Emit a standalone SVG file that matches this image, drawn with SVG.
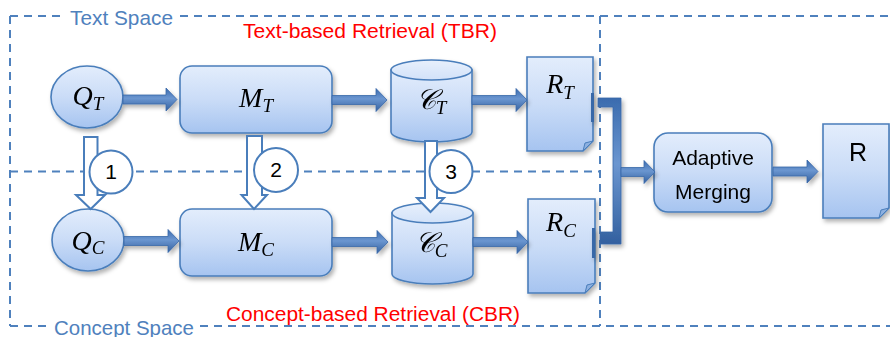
<svg xmlns="http://www.w3.org/2000/svg" width="890" height="337" viewBox="0 0 890 337">
  <style>
    .frame { fill: none; stroke: #4F81BD; stroke-width: 2; stroke-dasharray: 8 6; }
    .node { fill: url(#nodeFill); stroke: #4A7EBB; stroke-width: 1.6; }
    .cap { fill: url(#capFill); stroke: #4A7EBB; stroke-width: 1.6; }
    .fold { fill: #8DB0E0; stroke: #4A7EBB; stroke-width: 1; }
    .flow { fill: url(#flowFill); stroke: #3867A8; stroke-width: 0.8; }
    .hollow { fill: #FFFFFF; stroke: #4A7EBB; stroke-width: 2; }
    .badge { fill: #FFFFFF; stroke: #4A7EBB; stroke-width: 2; }
    .num { font-family: "Liberation Sans", Arial, sans-serif; font-size: 21px; fill: #000; text-anchor: middle; }
    .math { font-family: "Liberation Serif", "DejaVu Serif", serif; font-style: italic; font-size: 28px; fill: #000; text-anchor: middle; }
    .sub { font-size: 19px; }
    .space { font-family: "Liberation Sans", Arial, sans-serif; font-size: 21px; fill: #4F81BD; }
    .title { font-family: "Liberation Sans", Arial, sans-serif; font-size: 20px; fill: #FF0000; }
    .label { font-family: "Liberation Sans", Arial, sans-serif; font-size: 21px; fill: #000; text-anchor: middle; }
  </style>
  <defs>
    <linearGradient id="nodeFill" x1="0" y1="0" x2="0" y2="1">
      <stop offset="0" stop-color="#E3EDFC"/>
      <stop offset="0.5" stop-color="#CADCF7"/>
      <stop offset="1" stop-color="#A6C4F0"/>
    </linearGradient>
    <linearGradient id="capFill" x1="0" y1="0" x2="0" y2="1">
      <stop offset="0" stop-color="#E8F0FC"/>
      <stop offset="1" stop-color="#D2E2F9"/>
    </linearGradient>
    <linearGradient id="flowFill" x1="0" y1="0" x2="0" y2="1">
      <stop offset="0" stop-color="#3A6BAE"/>
      <stop offset="0.45" stop-color="#6B96D0"/>
      <stop offset="1" stop-color="#33609F"/>
    </linearGradient>
    <filter id="shadow" x="-20%" y="-20%" width="150%" height="150%">
      <feDropShadow dx="2" dy="3" stdDeviation="2" flood-color="#000" flood-opacity="0.3"/>
    </filter>
  </defs>

  <!-- dashed space frames -->
  <g id="frames">
    <path class="frame" d="M10,16 H66 M180,16 H890 M10,16 V326 M10,326 H48 M200,326 H890 M600,16 V326 M10,171.5 H600"/>
    <text class="space" x="70" y="25" textLength="103" lengthAdjust="spacingAndGlyphs">Text Space</text>
    <text class="space" x="54" y="335" textLength="140" lengthAdjust="spacingAndGlyphs">Concept Space</text>
    <text class="title" x="243" y="38" textLength="254" lengthAdjust="spacingAndGlyphs">Text-based Retrieval (TBR)</text>
    <text class="title" x="226" y="321" textLength="294" lengthAdjust="spacingAndGlyphs">Concept-based Retrieval (CBR)</text>
  </g>

  <!-- text-based row -->
  <g id="QT" filter="url(#shadow)">
    <ellipse class="node" cx="87" cy="97" rx="36" ry="31"/>
    <text class="math" x="88" y="105">Q<tspan class="sub" dy="5">T</tspan></text>
  </g>
  <g id="MT" filter="url(#shadow)">
    <rect class="node" x="180" y="66" width="152" height="67" rx="12"/>
    <text class="math" x="256" y="107">M<tspan class="sub" dy="5">T</tspan></text>
  </g>
  <g id="CT" filter="url(#shadow)">
    <path class="node" d="M391,70 V132 A40.5,10 0 0 0 472,132 V70 Z"/>
    <ellipse class="cap" cx="431.5" cy="70" rx="40.5" ry="10"/>
    <text class="math" x="431" y="109">𝒞<tspan class="sub" dy="5">T</tspan></text>
  </g>
  <g id="RT" filter="url(#shadow)">
    <path class="node" d="M527,57 H593 V141 L583,151 H527 Z"/>
    <path class="fold" d="M583,151 L585,143 L593,141 Z"/>
    <text class="math" x="560" y="93">R<tspan class="sub" dy="6">T</tspan></text>
  </g>

  <!-- concept-based row -->
  <g id="QC" filter="url(#shadow)">
    <ellipse class="node" cx="88" cy="240" rx="36" ry="31"/>
    <text class="math" x="88" y="250">Q<tspan class="sub" dy="4">C</tspan></text>
  </g>
  <g id="MC" filter="url(#shadow)">
    <rect class="node" x="180" y="209" width="152" height="67" rx="12"/>
    <text class="math" x="256" y="251">M<tspan class="sub" dy="5">C</tspan></text>
  </g>
  <g id="CC" filter="url(#shadow)">
    <path class="node" d="M392,213 V274 A40.5,10 0 0 0 473,274 V213 Z"/>
    <ellipse class="cap" cx="432.5" cy="213" rx="40.5" ry="10"/>
    <text class="math" x="431" y="252">𝒞<tspan class="sub" dy="5">C</tspan></text>
  </g>
  <g id="RC" filter="url(#shadow)">
    <path class="node" d="M528,199 H595 V283 L585,293 H528 Z"/>
    <path class="fold" d="M585,293 L587,285 L595,283 Z"/>
    <text class="math" x="561" y="231">R<tspan class="sub" dy="6">C</tspan></text>
  </g>

  <!-- merging and final result -->
  <g id="merge" filter="url(#shadow)">
    <rect class="node" x="654" y="133" width="118" height="79" rx="14"/>
    <text class="label" x="713" y="165">Adaptive</text>
    <text class="label" x="713" y="199">Merging</text>
  </g>
  <g id="R" filter="url(#shadow)">
    <path class="node" d="M823,124 H889 V208 L879,218 H823 Z"/>
    <path class="fold" d="M879,218 L881,210 L889,208 Z"/>
    <text class="label" x="858" y="161" style="font-size:25px">R</text>
  </g>

  <!-- connectors -->
  <g id="connectors">
    <g filter="url(#shadow)">
      <path class="flow" d="M123,95 H166 V88 L177,99.5 L166,111 V104 H123 Z"/>
      <path class="flow" d="M332,95.5 H376 V88.5 L387,100 L376,111.5 V104.5 H332 Z"/>
      <path class="flow" d="M472,95.5 H516 V88.5 L527,100 L516,111.5 V104.5 H472 Z"/>
      <path class="flow" d="M124,236.5 H168 V229.5 L179,241 L168,252.5 V245.5 H124 Z"/>
      <path class="flow" d="M332,237.5 H377 V230.5 L388,242 L377,253.5 V246.5 H332 Z"/>
      <path class="flow" d="M473,237.5 H517 V230.5 L528,242 L517,253.5 V246.5 H473 Z"/>
      <!-- merge bracket -->
      <path class="flow" d="M598,98 H621 V244 H600 V232 H613 V107 H598 Z"/>
      <rect x="591" y="93" width="3" height="29" fill="#3867A8"/>
      <rect x="592" y="228" width="3" height="30" fill="#3867A8"/>
      <path class="flow" d="M621,167.5 H644 V160.5 L655,172 L644,183.5 V176.5 H621 Z"/>
      <path class="flow" d="M773,167 H807 V160 L818,171.5 L807,183 V176 H773 Z"/>
    </g>
    <!-- transfer arrows between spaces -->
    <path class="hollow" d="M84,137 H97.5 V195 H105 L90.7,209 L76,195 H84 Z"/>
    <path class="hollow" d="M247,136 H262 V195 H267 L254,209 L241.5,195 H247 Z"/>
    <path class="hollow" d="M425,141 H437 V198 H444 L430.5,212 L417,198 H425 Z"/>
    <circle class="badge" cx="111" cy="172" r="21.5"/>
    <text class="num" x="111" y="179">1</text>
    <circle class="badge" cx="276" cy="170" r="22"/>
    <text class="num" x="276" y="177">2</text>
    <circle class="badge" cx="451" cy="171.5" r="21.5"/>
    <text class="num" x="451" y="178.5">3</text>
  </g>
</svg>
